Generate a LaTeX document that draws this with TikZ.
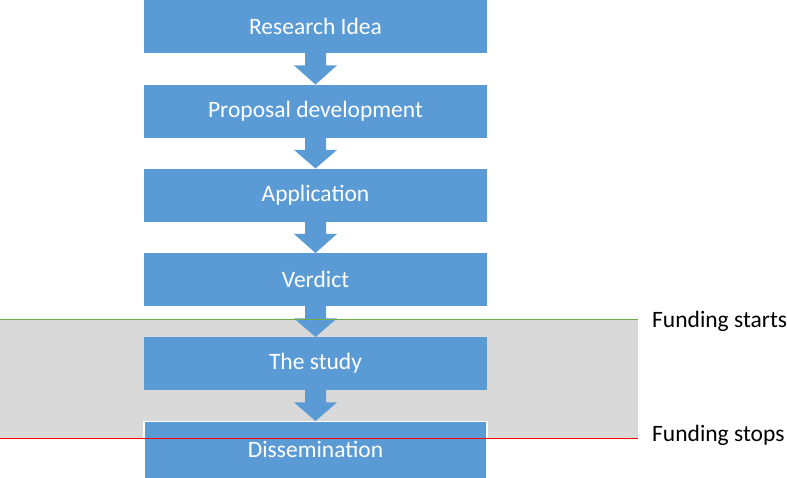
\documentclass[tikz,border=0pt]{standalone}
\usepackage{fontspec}
\setmainfont{Carlito}
\usetikzlibrary{calc}
\definecolor{boxblue}{HTML}{5B9BD5}
\definecolor{fundgray}{HTML}{D9D9D9}
\definecolor{fundgreen}{HTML}{70AD47}
\definecolor{fundred}{HTML}{FF0000}
\tikzset{
  stagebox/.style={fill=boxblue, draw=none, minimum width=343pt, minimum height=53pt,
    inner sep=0pt, text=white, font=\fontsize{23.5}{28}\selectfont, anchor=north},
  sidelabel/.style={anchor=west, inner sep=0pt, text=black, font=\fontsize{23.5}{28}\selectfont},
}
\newcommand\flowarrow[2]{%
  \fill[boxblue] ([xshift=-10.5pt,yshift=0.5pt]#1.south) -- ([xshift=-10.5pt,yshift=-12pt]#1.south)
    -- ([xshift=-21.5pt,yshift=-12pt]#1.south) -- (#2.north)
    -- ([xshift=21.5pt,yshift=-12pt]#1.south) -- ([xshift=10.5pt,yshift=-12pt]#1.south)
    -- ([xshift=10.5pt,yshift=0.5pt]#1.south) -- cycle;}
\begin{document}
\begin{tikzpicture}[x=1pt,y=-1pt]
\useasboundingbox (0,0) rectangle (787,477);
% funding band
\fill[fundgray] (0,319) rectangle (638,439);
% boxes
\node[stagebox] (idea) at (315.5,0) {Research Idea};
\node[stagebox] (prop) at (315.5,84.5) {Proposal development};
\node[stagebox] (appl) at (315.5,168.5) {Application};
\node[stagebox] (verd) at (315.5,253) {Verdict};
\node[stagebox] (study) at (315.5,337) {The study};
\node[stagebox, draw=white, line width=1.2pt, minimum height=60pt, text depth=0pt] (diss) at (315.5,421) {};
\node[text=white, font=\fontsize{23.5}{28}\selectfont, inner sep=0pt] (disstext) at (315.5,449) {Dissemination};
% arrows
\flowarrow{idea}{prop}
\flowarrow{prop}{appl}
\flowarrow{appl}{verd}
\flowarrow{verd}{study}
\flowarrow{study}{diss}
% funding lines
\coordinate (gs) at (0,319.5);
\coordinate (ge) at (638,319.5);
\coordinate (rs) at (0,438.5);
\coordinate (re) at (638,438.5);
\draw[fundgreen, line width=1.8pt] (gs) -- (ge);
\draw[fundred, line width=1.8pt] (rs) -- (re);
\node[sidelabel] (fstart) at (652,321) {Funding starts};
\node[sidelabel] (fstop) at (652,435) {Funding stops};
\end{tikzpicture}
\end{document}
